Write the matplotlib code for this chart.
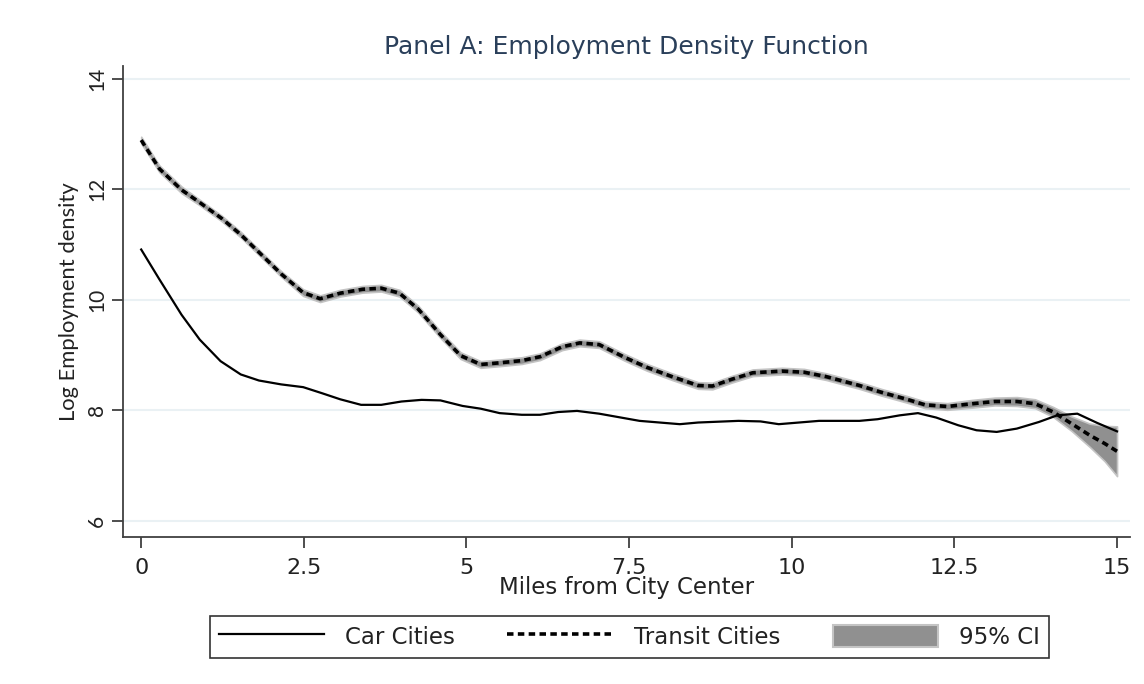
import matplotlib
matplotlib.use("Agg")
import matplotlib.pyplot as plt
import numpy as np
from matplotlib.patches import Patch
from matplotlib.lines import Line2D

plt.rcParams["font.family"] = ["DejaVu Sans"]

# Car cities: miles from center and log employment density
car_miles = [0, 0.28, 0.62, 0.90, 1.22, 1.53, 1.81, 2.15, 2.49, 2.78, 3.06, 3.38,
             3.69, 4.0, 4.31, 4.6, 4.94, 5.22, 5.51, 5.85, 6.13, 6.41, 6.7, 7.04,
             7.66, 8.28, 8.56, 9.18, 9.52, 9.8, 10.42, 11.04, 11.32, 11.66, 11.94,
             12.22, 12.56, 12.84, 13.15, 13.46, 13.8, 14.08, 14.39, 14.7, 15.0]
car_density = [10.91, 10.37, 9.73, 9.28, 8.89, 8.65, 8.54, 8.47, 8.42, 8.31, 8.20, 8.10,
               8.10, 8.16, 8.19, 8.18, 8.08, 8.03, 7.95, 7.92, 7.92, 7.97, 7.99, 7.94,
               7.81, 7.75, 7.78, 7.81, 7.80, 7.75, 7.81, 7.81, 7.84, 7.91, 7.95,
               7.87, 7.73, 7.64, 7.61, 7.67, 7.79, 7.91, 7.94, 7.77, 7.62]

# Transit cities with 95% confidence half-widths
transit_miles = [0, 0.28, 0.62, 0.90, 1.24, 1.53, 1.81, 2.15, 2.49, 2.75, 3.06, 3.40,
                 3.69, 3.97, 4.26, 4.6, 4.91, 5.22, 5.51, 5.85, 6.13, 6.47, 6.74, 7.04,
                 7.43, 7.77, 8.16, 8.56, 8.78, 9.07, 9.4, 9.85, 10.19, 10.53, 11.04,
                 11.37, 11.77, 12.05, 12.39, 12.78, 13.12, 13.46, 13.74, 14.02, 14.3,
                 14.58, 14.81, 15.0]
transit_density = [12.89, 12.37, 11.99, 11.76, 11.47, 11.18, 10.86, 10.47, 10.13, 10.02,
                   10.12, 10.19, 10.21, 10.12, 9.83, 9.37, 8.99, 8.83, 8.86, 8.90, 8.97,
                   9.15, 9.22, 9.19, 8.96, 8.78, 8.61, 8.45, 8.44, 8.56, 8.68, 8.71, 8.69,
                   8.61, 8.45, 8.33, 8.20, 8.10, 8.07, 8.12, 8.16, 8.16, 8.12, 7.97, 7.76,
                   7.55, 7.40, 7.26]
transit_ci = [0.06, 0.06, 0.06, 0.05, 0.05, 0.05, 0.05, 0.05, 0.06, 0.06,
              0.06, 0.06, 0.06, 0.06, 0.06, 0.06, 0.06, 0.06, 0.06, 0.06, 0.06,
              0.06, 0.06, 0.06, 0.06, 0.06, 0.06, 0.06, 0.06, 0.06, 0.06, 0.06, 0.06,
              0.06, 0.06, 0.06, 0.06, 0.06, 0.06, 0.07, 0.07, 0.08, 0.08, 0.09, 0.13,
              0.21, 0.32, 0.45]

x_ticks = [0, 2.5, 5, 7.5, 10, 12.5, 15]
x_tick_labels = ["0", "2.5", "5", "7.5", "10", "12.5", "15"]
y_ticks = [6, 8, 10, 12, 14]
y_tick_labels = ["6", "8", "10", "12", "14"]

fig = plt.figure(figsize=(11.44, 6.84), dpi=100)
ax = fig.add_axes([0.1075, 0.215, 0.8803, 0.6885])

tm = np.array(transit_miles)
td = np.array(transit_density)
ci = np.array(transit_ci)
ax.fill_between(tm, td - ci, td + ci, facecolor="#909090", edgecolor="#c4c4c4",
                linewidth=1.2, zorder=2)
ax.plot(car_miles, car_density, color="black", lw=1.6, zorder=3)
ax.plot(transit_miles, transit_density, color="black", lw=2.6,
        linestyle=(0, (1.8, 1.2)), zorder=4)

ax.set_xlim(-0.28, 15.2)
ax.set_ylim(5.71, 14.23)
ax.set_xticks(x_ticks)
ax.set_xticklabels(x_tick_labels, fontsize=16)
ax.set_yticks(y_ticks)
ax.set_yticklabels(y_tick_labels, rotation=90, va="center", fontsize=15,
                   family=["Lato", "DejaVu Sans"])
ax.grid(axis="y", color="#eaf1f4", lw=1.5)
ax.set_axisbelow(True)

for side in ["top", "right"]:
    ax.spines[side].set_visible(False)
for side in ["left", "bottom"]:
    ax.spines[side].set_color("#404040")
    ax.spines[side].set_linewidth(1.3)

ax.tick_params(axis="both", colors="#404040", length=8, width=1.3,
               labelcolor="#222222")
ax.tick_params(axis="x", pad=7)

ax.set_xlabel("Miles from City Center", fontsize=16.5, color="#222222", labelpad=-1)
ax.set_ylabel("Log Employment density", fontsize=15.8, color="#222222", labelpad=6,
              family=["Lato", "DejaVu Sans"])
ax.set_title("Panel A: Employment Density Function", fontsize=18,
             color="#2a3f5a", pad=9)

handles = [
    Line2D([], [], color="black", lw=1.6),
    Line2D([], [], color="black", lw=2.6, linestyle=(0, (1.8, 1.2))),
    Patch(facecolor="#909090", edgecolor="#c4c4c4", linewidth=1.5),
]
leg = fig.legend(handles, ["Car Cities", "Transit Cities", "95% CI"],
                 loc="upper center", bbox_to_anchor=(0.55, 0.1), ncol=3,
                 fontsize=16.5, frameon=True, fancybox=False, edgecolor="black",
                 handlelength=4.6, handleheight=1.1, columnspacing=2.3,
                 handletextpad=0.9, borderpad=0.4, borderaxespad=0)
leg.get_frame().set_linewidth(1.2)
for t in leg.get_texts():
    t.set_color("#222222")

fig.savefig("out.png", dpi=100, facecolor="white")
